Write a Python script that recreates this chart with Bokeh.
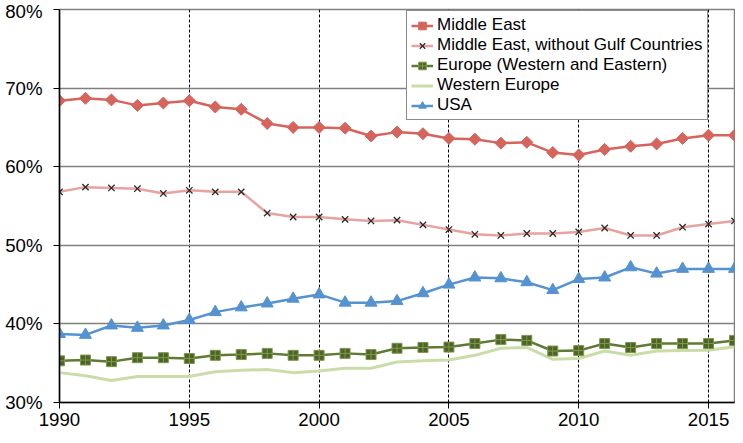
from bokeh.embed import file_html
from bokeh.resources import INLINE
from bokeh.models import Range1d, FixedTicker, PrintfTickFormatter, Legend, LegendItem
from bokeh.plotting import figure

# Share of ... by region, percent
years = list(range(1990, 2017))
middle_east = [68.4, 68.7, 68.5, 67.8, 68.1, 68.4, 67.6, 67.3, 65.5, 65.0, 65.0, 64.9, 63.9,
               64.4, 64.2, 63.6, 63.5, 63.0, 63.1, 61.8, 61.5, 62.2, 62.6, 62.9, 63.6, 64.0, 64.0]
me_no_gulf = [56.8, 57.4, 57.3, 57.2, 56.6, 57.0, 56.8, 56.8, 54.1, 53.6, 53.6, 53.3, 53.1,
              53.2, 52.6, 52.0, 51.4, 51.25, 51.5, 51.5, 51.7, 52.2, 51.25, 51.25, 52.3, 52.7, 53.1]
europe = [35.3, 35.4, 35.2, 35.7, 35.7, 35.6, 36.0, 36.1, 36.25, 36.0, 36.0, 36.25, 36.1,
          36.9, 37.0, 37.05, 37.5, 38.0, 37.9, 36.55, 36.6, 37.5, 37.0, 37.5, 37.5, 37.5, 37.9]
western_europe = [33.8, 33.4, 32.8, 33.3, 33.3, 33.3, 33.9, 34.1, 34.2, 33.8, 34.0, 34.35, 34.35,
                  35.15, 35.3, 35.4, 36.0, 36.9, 37.0, 35.5, 35.6, 36.55, 36.0, 36.55, 36.6, 36.65, 37.1]
usa = [38.7, 38.6, 39.8, 39.5, 39.8, 40.5, 41.5, 42.1, 42.6, 43.2, 43.75, 42.7, 42.7,
       42.9, 43.9, 45.0, 45.9, 45.8, 45.3, 44.3, 45.7, 45.9, 47.2, 46.4, 47.0, 47.0, 47.0]

x_ticks = [1990, 1995, 2000, 2005, 2010, 2015]
y_ticks = [30, 40, 50, 60, 70, 80]

FONT = "Liberation Sans"

p = figure(
    width=735,
    height=435,
    x_range=Range1d(1990, 2016),
    y_range=Range1d(30, 80),
    output_backend="svg",
    toolbar_location=None,
    min_border_top=9,
    min_border_right=1,
    min_border_bottom=33,
    min_border_left=59,
)

p.background_fill_color = "white"
p.border_fill_color = "white"
p.outline_line_color = "#808080"
p.outline_line_width = 1.5

# axes
p.xaxis.ticker = FixedTicker(ticks=x_ticks)
p.yaxis.ticker = FixedTicker(ticks=y_ticks)
p.yaxis.formatter = PrintfTickFormatter(format="%d%%")
for ax in (p.xaxis, p.yaxis):
    ax.axis_line_color = "black"
    ax.axis_line_width = 1.5
    ax.major_tick_line_color = "black"
    ax.major_tick_in = 0
    ax.minor_tick_line_color = None
    ax.major_label_text_font = FONT
    ax.major_label_text_font_size = "14pt"
    ax.major_label_text_color = "black"
p.xaxis.major_tick_out = 6
p.xaxis.major_label_standoff = 4
p.yaxis.major_tick_out = 6
p.yaxis.major_label_standoff = 11

# grid: solid grey horizontals, dashed black verticals
p.ygrid.grid_line_color = "#808080"
p.ygrid.grid_line_width = 1.5
p.xgrid.grid_line_color = "black"
p.xgrid.grid_line_width = 1
p.xgrid.grid_line_dash = "3 2"

# series
we_line = p.line(years, western_europe, line_color="#CADDA8", line_width=3)

eu_line = p.line(years, europe, line_color="#5F7A32", line_width=2.5)
eu_pts = p.scatter(years, europe, marker="square_cross", size=10,
                   fill_color="#4F6228", line_color="#7C9A4A", line_width=1)

us_line = p.line(years, usa, line_color="#5592D0", line_width=2.5)
us_pts = p.scatter(years, usa, marker="triangle", size=12,
                   fill_color="#5592D0", line_color="#5592D0")

mg_line = p.line(years, me_no_gulf, line_color="#E8A3A1", line_width=2.5)
mg_pts = p.scatter(years, me_no_gulf, marker="x", size=9,
                   line_color="#2a2a2a", line_width=1.3)

me_line = p.line(years, middle_east, line_color="#D5645C", line_width=2.5)
me_pts = p.scatter(years, middle_east, marker="square", angle=0.785398, size=8.5,
                   fill_color="#D5645C", line_color="#D5645C")

legend = Legend(
    items=[
        LegendItem(label="Middle East", renderers=[me_line, me_pts]),
        LegendItem(label="Middle East, without Gulf Countries", renderers=[mg_line, mg_pts]),
        LegendItem(label="Europe (Western and Eastern)", renderers=[eu_line, eu_pts]),
        LegendItem(label="Western Europe", renderers=[we_line]),
        LegendItem(label="USA", renderers=[us_line, us_pts]),
    ],
    location=(347, 282),
    margin=0,
    padding=4,
    spacing=0,
    label_height=19,
    glyph_height=19,
    glyph_width=22,
    label_standoff=4,
    label_text_font=FONT,
    label_text_font_size="17px",
    label_text_color="black",
    border_line_color="#1a1a1a",
    border_line_width=1,
    background_fill_color="white",
    background_fill_alpha=1.0,
)
p.add_layout(legend)

open("out.html", "w").write(file_html(p, INLINE))
